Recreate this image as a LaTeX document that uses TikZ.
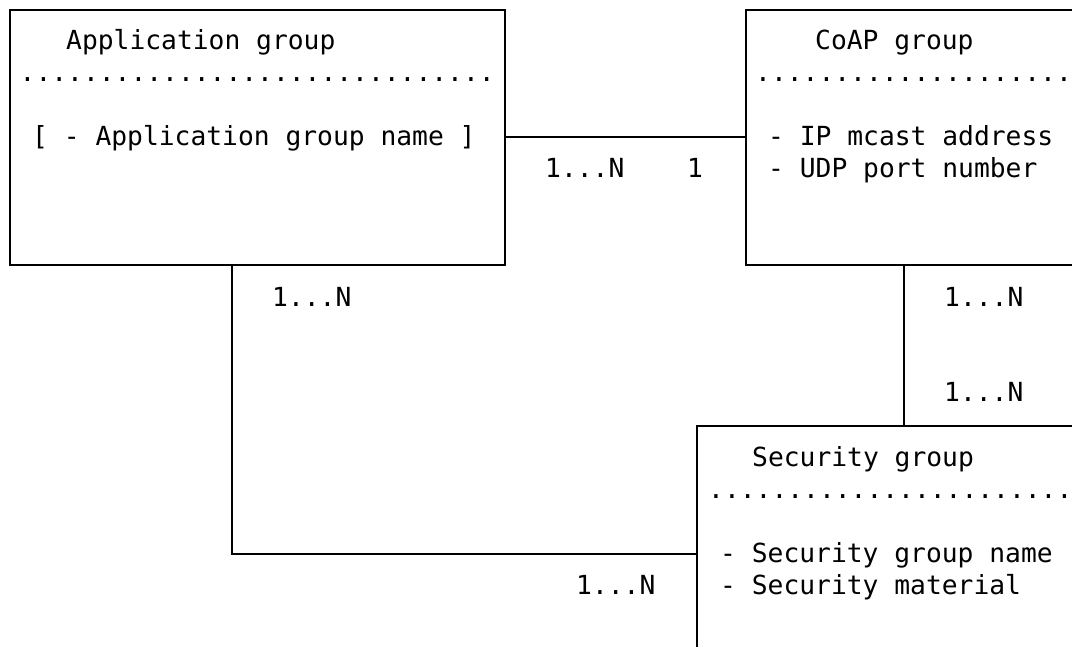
\documentclass[tikz,border=0pt]{standalone}
\usepackage{fontspec}
\setmonofont{DejaVu Sans Mono}
\usetikzlibrary{positioning}

\begin{document}
\begin{tikzpicture}[x=1pt,y=-1pt]
        \tikzstyle{group}=[draw=black,line width=1.8pt,anchor=north west,inner sep=0pt]
        \tikzstyle{txt}=[anchor=base west,inner sep=0pt,font=\ttfamily\fontsize{26.3}{32}\selectfont]
        \tikzstyle{link}=[draw,line width=1.8pt]
        \useasboundingbox (0,0) rectangle (1072,647);
        \clip (0,0) rectangle (1072,647);
        \begin{scope}
           % boxes
           \node [group,minimum width=495pt,minimum height=255pt] (app) at (9,9) {};
           \node [group,minimum width=400pt,minimum height=255pt] (coap) at (745,9) {};
           \node [group,minimum width=400pt,minimum height=256pt] (sec) at (696,425) {};
           % box contents
           \node [txt] (apptitle) at (66,50) {Application group};
           \node [txt] (appdots) at (19.5,82) {..............................};
           \node [txt] (appname) at (32,146) {[ - Application group name ]};
           \node [txt] (coaptitle) at (815,50) {CoAP group};
           \node [txt] (coapdots) at (755,82) {....................};
           \node [txt] (coapip) at (768,146) {- IP mcast address};
           \node [txt] (coapudp) at (768,178) {- UDP port number};
           \node [txt] (sectitle) at (752,466) {Security group};
           \node [txt] (secdots) at (708,498) {.......................};
           \node [txt] (secname) at (720,562) {- Security group name};
           \node [txt] (secmat) at (720,594) {- Security material};
           % connectors
           \coordinate (appfoot) at ([xshift=223pt]app.south west);
           \coordinate (coapfoot) at ([xshift=159pt]coap.south west);
           \path[link] (app.east) -- (coap.west);
           \path[link] (appfoot) |- (sec.west);
           \path[link] (coapfoot) -- (coapfoot |- sec.north);
           % multiplicities
           \node [txt] (m1) at (545,178) {1...N};
           \node [txt] (m2) at (687,178) {1};
           \node [txt] (m3) at (272,307) {1...N};
           \node [txt] (m4) at (944,307) {1...N};
           \node [txt] (m5) at (944,402) {1...N};
           \node [txt] (m6) at (576,594) {1...N};
        \end{scope}
\end{tikzpicture}
\end{document}
